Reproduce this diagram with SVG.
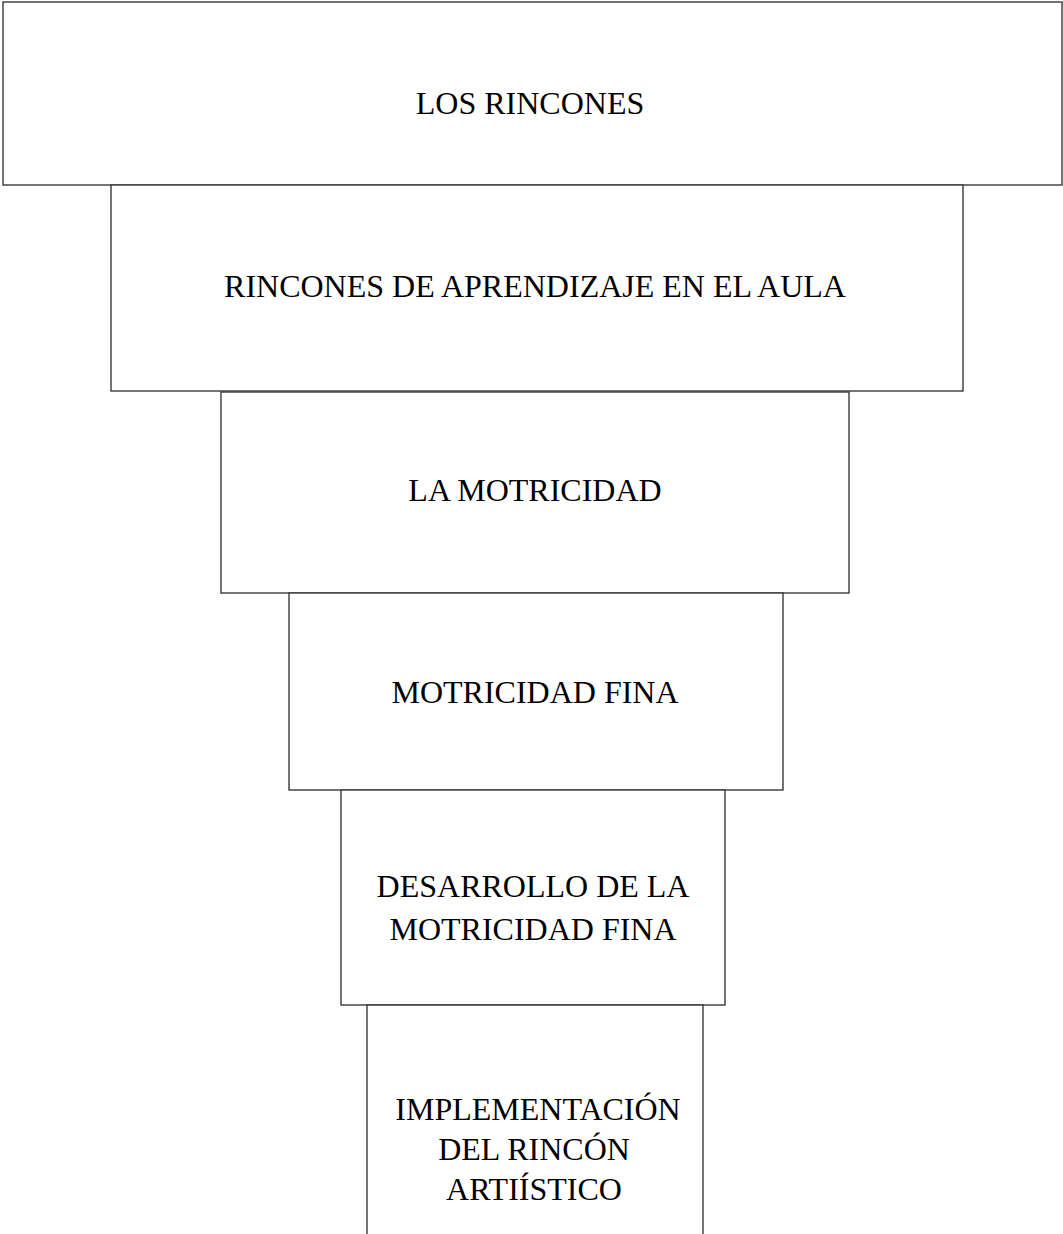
<svg xmlns="http://www.w3.org/2000/svg" width="1063" height="1234" viewBox="0 0 1063 1234">
<style>
.box{fill:#fff;stroke:#3a3a3a;stroke-width:1.4}
.t{font-family:"Liberation Serif","Times New Roman",serif;font-size:32px;fill:#000;text-anchor:middle}
</style>
<rect width="1063" height="1234" fill="#fff"/>
<g id="connectors"></g>
<g id="n1"><rect class="box" x="3" y="2" width="1059" height="183"/><text class="t" x="530" y="114">LOS RINCONES</text></g>
<g id="n2"><rect class="box" x="111" y="185" width="852" height="206"/><text class="t" x="535" y="297">RINCONES DE APRENDIZAJE EN EL AULA</text></g>
<g id="n3"><rect class="box" x="221" y="392" width="628" height="201"/><text class="t" x="535" y="501">LA MOTRICIDAD</text></g>
<g id="n4"><rect class="box" x="289" y="593" width="494" height="197"/><text class="t" x="535" y="703">MOTRICIDAD FINA</text></g>
<g id="n5"><rect class="box" x="341" y="790" width="384" height="215"/><text class="t" x="533" y="897">DESARROLLO DE LA</text><text class="t" x="533" y="940">MOTRICIDAD FINA</text></g>
<g id="n6"><path class="box" d="M367 1236 V1005 H703 V1236"/><text class="t" x="538" y="1120">IMPLEMENTACIÓN</text><text class="t" x="534" y="1160">DEL RINCÓN</text><text class="t" x="534" y="1200">ARTIÍSTICO</text></g>
</svg>
